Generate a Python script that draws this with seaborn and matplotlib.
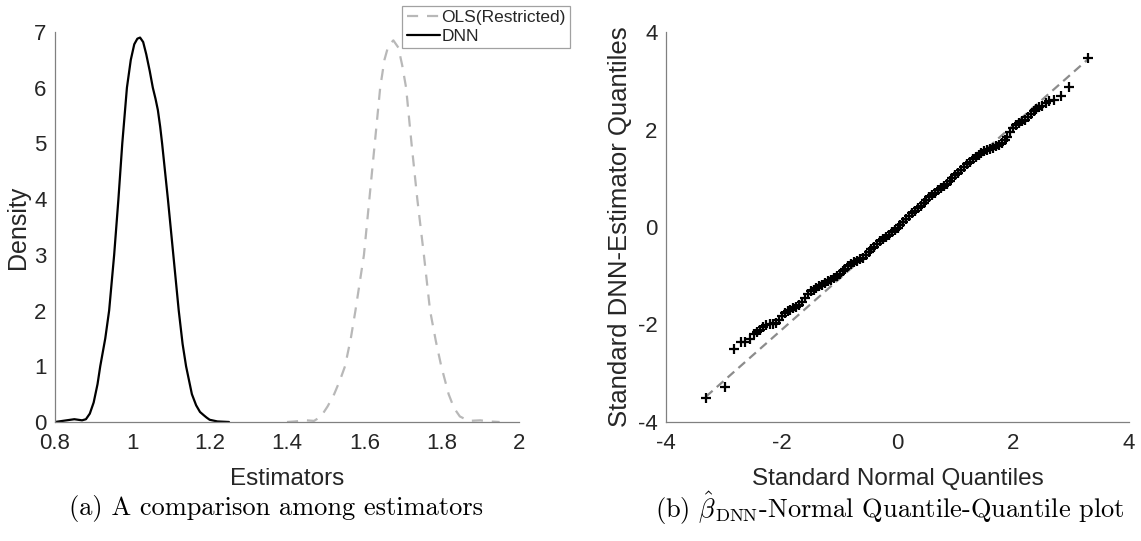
import matplotlib
matplotlib.use("Agg")
import matplotlib.pyplot as plt
import seaborn as sns
import pandas as pd

# ---------------- data ----------------
dnn_x = [0.80, 0.82, 0.84, 0.85, 0.86, 0.87, 0.88, 0.89, 0.90, 0.91, 0.917, 0.93, 0.94,
         0.953, 0.964, 0.974, 0.986, 0.996, 1.005, 1.013, 1.02, 1.028, 1.036, 1.045,
         1.053, 1.06, 1.066, 1.072, 1.077, 1.092, 1.106, 1.12, 1.13, 1.139, 1.154,
         1.165, 1.175, 1.185, 1.192, 1.20, 1.22, 1.25]
dnn_y = [0.00, 0.02, 0.04, 0.05, 0.04, 0.03, 0.05, 0.15, 0.35, 0.68, 1.00, 1.50, 2.00,
         3.00, 4.00, 5.00, 6.00, 6.50, 6.78, 6.88, 6.90, 6.82, 6.60, 6.30,
         6.00, 5.80, 5.60, 5.30, 5.00, 4.00, 3.00, 2.00, 1.40, 1.00, 0.50,
         0.30, 0.18, 0.12, 0.08, 0.04, 0.01, 0.00]

ols_x = [1.40, 1.42, 1.45, 1.47, 1.488, 1.505, 1.522, 1.537, 1.55, 1.565, 1.577, 1.599,
         1.613, 1.627, 1.641, 1.652, 1.662, 1.675, 1.688, 1.698, 1.708, 1.722, 1.737,
         1.754, 1.77, 1.785, 1.799, 1.818, 1.832, 1.847, 1.87, 1.90, 1.925, 1.95]
ols_y = [0.00, 0.01, 0.03, 0.02, 0.10, 0.28, 0.50, 0.75, 1.00, 1.50, 2.00, 3.00,
         4.00, 5.00, 6.00, 6.50, 6.75, 6.85, 6.72, 6.40, 6.00, 5.00, 4.00,
         3.00, 2.00, 1.45, 1.00, 0.50, 0.25, 0.10, 0.02, 0.03, 0.01, 0.00]

qq_x = [-3.31, -2.98, -2.83, -2.70, -2.63, -2.55, -2.48, -2.42, -2.37, -2.32, -2.27,
        -2.20, -2.15, -2.10, -2.05, -2.00, -1.95, -1.90, -1.85, -1.80, -1.75, -1.70,
        -1.65, -1.60, -1.55, -1.50, -1.45, -1.40, -1.35, -1.30, -1.25, -1.20, -1.15,
        -1.10, -1.05, -1.00, -0.95, -0.90, -0.85, -0.80, -0.75, -0.70, -0.65, -0.60,
        -0.55, -0.50, -0.45, -0.40, -0.35, -0.30, -0.25, -0.20, -0.15, -0.10, -0.05,
        0.00, 0.05, 0.10, 0.15, 0.20, 0.25, 0.30, 0.35, 0.40, 0.45, 0.50, 0.55,
        0.60, 0.65, 0.70, 0.75, 0.80, 0.85, 0.90, 0.95, 1.00, 1.05, 1.10, 1.15,
        1.20, 1.25, 1.30, 1.35, 1.40, 1.45, 1.50, 1.55, 1.60, 1.65, 1.70, 1.75,
        1.80, 1.85, 1.90, 1.95, 2.00, 2.05, 2.10, 2.15, 2.20, 2.25, 2.30,
        2.35, 2.40, 2.45, 2.50, 2.56, 2.62, 2.70, 2.83, 2.97, 3.29]
qq_y = [-3.50, -3.28, -2.51, -2.35, -2.35, -2.29, -2.20, -2.16, -2.11, -2.05, -2.02,
        -1.99, -1.98, -1.97, -1.90, -1.82, -1.76, -1.72, -1.70, -1.67, -1.65, -1.60,
        -1.53, -1.46, -1.38, -1.32, -1.29, -1.26, -1.22, -1.18, -1.14, -1.11, -1.08,
        -1.04, -1.00, -0.96, -0.91, -0.86, -0.80, -0.75, -0.72, -0.69, -0.66, -0.63,
        -0.57, -0.51, -0.46, -0.40, -0.34, -0.28, -0.24, -0.21, -0.16, -0.11, -0.06,
        -0.02, 0.04, 0.10, 0.16, 0.22, 0.28, 0.33, 0.39, 0.44, 0.50, 0.56, 0.61,
        0.66, 0.70, 0.75, 0.79, 0.84, 0.89, 0.95, 1.00, 1.06, 1.11, 1.17, 1.23,
        1.29, 1.34, 1.39, 1.44, 1.48, 1.52, 1.55, 1.58, 1.61, 1.63, 1.66, 1.69,
        1.72, 1.78, 1.85, 1.94, 2.03, 2.09, 2.13, 2.17, 2.20, 2.25, 2.31,
        2.37, 2.42, 2.46, 2.49, 2.55, 2.58, 2.60, 2.68, 2.88, 3.46]

ref_x = [-3.31, 3.29]
ref_y = [-3.48, 3.44]

left_xticks = [0.8, 1.0, 1.2, 1.4, 1.6, 1.8, 2.0]
left_xticklabels = ["0.8", "1", "1.2", "1.4", "1.6", "1.8", "2"]
left_yticks = [0, 1, 2, 3, 4, 5, 6, 7]
right_ticks = [-4, -2, 0, 2, 4]

series_labels = ["OLS(Restricted)", "DNN"]

# ---------------- style ----------------
sns.set_theme(style="white")
plt.rcParams["font.family"] = ["Liberation Sans", "DejaVu Sans"]
plt.rcParams["axes.unicode_minus"] = False
plt.rcParams["mathtext.fontset"] = "cm"

W, H = 1141, 541
fig = plt.figure(figsize=(W / 100, H / 100), dpi=100)
ax1 = fig.add_axes([55 / W, (H - 422) / H, 464 / W, 390 / H])
ax2 = fig.add_axes([666 / W, (H - 422) / H, 463 / W, 390 / H])

spine_col = "#808080"
tick_col = "#262626"

def style_axis(ax):
    for s in ["top", "right"]:
        ax.spines[s].set_visible(False)
    for s in ["left", "bottom"]:
        ax.spines[s].set_color(spine_col)
        ax.spines[s].set_linewidth(0.9)
    ax.tick_params(axis="both", direction="in", length=4, width=0.9, color=spine_col,
                   labelsize=16, labelcolor=tick_col)
    ax.tick_params(axis="x", pad=8)
    ax.tick_params(axis="y", pad=6)
    ax.grid(False)

# ---------------- left: densities ----------------
df_ols = pd.DataFrame({"x": ols_x, "y": ols_y})
df_dnn = pd.DataFrame({"x": dnn_x, "y": dnn_y})
sns.lineplot(data=df_ols, x="x", y="y", ax=ax1, sort=False, estimator=None,
             color="#b8b8b8", linewidth=1.6, label=series_labels[0])
ax1.lines[-1].set_dashes([5, 4])
sns.lineplot(data=df_dnn, x="x", y="y", ax=ax1, sort=False, estimator=None,
             color="black", linewidth=1.6, label=series_labels[1])
ax1.set_xlim(0.8, 2.0)
ax1.set_ylim(0, 7)
ax1.set_xticks(left_xticks)
ax1.set_xticklabels(left_xticklabels)
ax1.set_yticks(left_yticks)
style_axis(ax1)
ax1.set_xlabel("Estimators", fontsize=17.5, color=tick_col, labelpad=10)
ax1.set_ylabel("Density", fontsize=18, color=tick_col, labelpad=3)

leg = ax1.legend(loc="upper right", bbox_to_anchor=(570 / W, 1 - 6 / H),
                 bbox_transform=fig.transFigure, borderaxespad=0, frameon=True,
                 fancybox=False, handlelength=1.9, handletextpad=0.1,
                 borderpad=0.25, labelspacing=0.2,
                 prop={"family": ["Liberation Sans"], "size": 12.5})
leg.get_frame().set_edgecolor("#8a8a8a")
leg.get_frame().set_linewidth(0.9)
for t in leg.get_texts():
    t.set_color(tick_col)

# ---------------- right: QQ plot ----------------
df_ref = pd.DataFrame({"x": ref_x, "y": ref_y})
sns.lineplot(data=df_ref, x="x", y="y", ax=ax2, sort=False, estimator=None,
             color="#8c8c8c", linewidth=1.6)
ax2.lines[-1].set_dashes([4, 2.5])
df_qq = pd.DataFrame({"x": qq_x, "y": qq_y})
sns.scatterplot(data=df_qq, x="x", y="y", ax=ax2, marker="+", color="black",
                s=50, linewidth=1.6, zorder=3)
ax2.set_xlim(-4, 4)
ax2.set_ylim(-4, 4)
ax2.set_xticks(right_ticks)
ax2.set_yticks(right_ticks)
style_axis(ax2)
ax2.set_xlabel("Standard Normal Quantiles", fontsize=17.5, color=tick_col, labelpad=10)
ax2.set_ylabel("Standard DNN-Estimator Quantiles", fontsize=18.5, color=tick_col, labelpad=4)

# ---------------- captions ----------------
fig.text(276 / W, 1 - 508 / H, "(a) A comparison among estimators",
         ha="center", va="center", fontsize=19, family="cmr10", color="black")
fig.text(890 / W, 1 - 508 / H,
         r"(b) $\hat{\beta}_{\mathrm{DNN}}$-Normal Quantile-Quantile plot",
         ha="center", va="center", fontsize=19, family="cmr10", color="black")

fig.savefig("out.png", dpi=100)
